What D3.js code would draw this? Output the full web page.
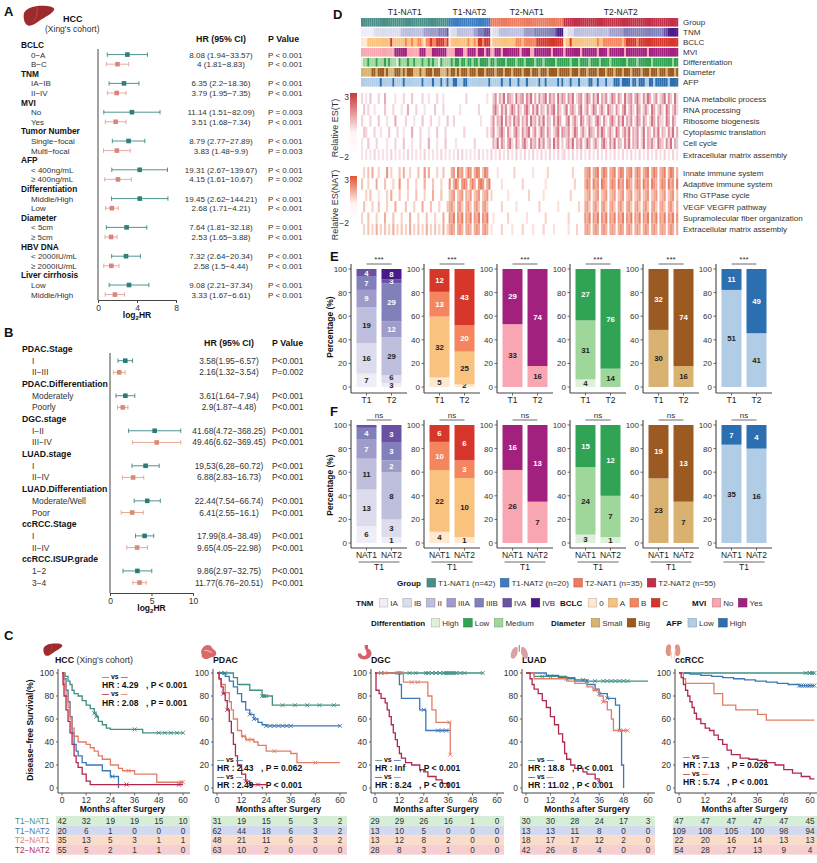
<!DOCTYPE html>
<html><head><meta charset="utf-8">
<script src="https://cdn.jsdelivr.net/npm/d3@7"></script>
<style>body{margin:0;background:#fff}svg{font-family:"Liberation Sans",Arial,Helvetica,sans-serif}</style>
</head><body><svg id="c" width="817" height="863"></svg>
<script>
// ===================== DATA =====================
// Panel A forest (HCC, Xing's cohort)
const forestAGroups = ["BCLC","TNM","MVI","Tumor Number","AFP","Differentiation","Diameter","HBV DNA","Liver cirrhosis"];
const forestALevels = [["0−A","B−C"],["IA−IB","II−IV"],["No","Yes"],["Single−focal","Multi−focal"],["< 400ng/mL","≥ 400ng/mL"],["Middle/High","Low"],["< 5cm","≥ 5cm"],["< 2000IU/mL","≥ 2000IU/mL"],["Low","Middle/High"]];
const forestAHR = [8.08,4,6.35,3.79,11.14,3.51,8.79,3.83,19.31,4.15,19.45,2.68,7.64,2.53,7.32,2.58,9.08,3.33];
const forestALo = [1.94,1.81,2.2,1.95,1.51,1.68,2.77,1.48,2.67,1.61,2.62,1.71,1.81,1.65,2.64,1.5,2.21,1.67];
const forestAHi = [33.57,8.83,18.36,7.35,82.09,7.34,27.89,9.9,139.67,10.67,144.21,4.21,32.18,3.88,20.34,4.44,37.34,6.61];
const forestAP = ["P < 0.001","P < 0.001","P < 0.001","P < 0.001","P = 0.003","P < 0.001","P < 0.001","P = 0.003","P < 0.001","P = 0.002","P < 0.001","P < 0.001","P = 0.001","P < 0.001","P < 0.001","P < 0.001","P < 0.001","P < 0.001"];
const forestATicks = [0,4,8];

// Panel B forest (pan-cancer)
const forestBGroups = ["PDAC.Stage","PDAC.Differentiation","DGC.stage","LUAD.stage","LUAD.Differentiation","ccRCC.Stage","ccRCC.ISUP.grade"];
const forestBLevels = [["I","II−III"],["Moderately","Poorly"],["I−II","III−IV"],["I","II−IV"],["Moderate/Well","Poor"],["I","II−IV"],["1−2","3−4"]];
const forestBHR = [3.58,2.16,3.61,2.9,41.68,49.46,19.53,6.88,22.44,6.41,17.99,9.65,9.86,11.77];
const forestBLo = [1.95,1.32,1.64,1.87,4.72,6.62,6.28,2.83,7.54,2.55,8.4,4.05,2.97,6.76];
const forestBHi = [6.57,3.54,7.94,4.48,368.25,369.45,60.72,16.73,66.74,16.1,38.49,22.98,32.75,20.51];
const forestBText = ["3.58(1.95−6.57)","2.16(1.32−3.54)","3.61(1.64−7.94)","2.9(1.87−4.48)","41.68(4.72−368.25)","49.46(6.62−369.45)","19,53(6,28−60.72)","6.88(2.83−16.73)","22.44(7.54−66.74)","6.41(2.55−16.1)","17.99(8.4−38.49)","9.65(4.05−22.98)","9.86(2.97−32.75)","11.77(6.76−20.51)"];
const forestBP = ["P<0.001","P=0.002","P<0.001","P<0.001","P<0.001","P<0.001","P<0.001","P<0.001","P<0.001","P<0.001","P<0.001","P<0.001","P<0.001","P<0.001"];
const forestBTicks = [0,5,10];

// Panel C Kaplan-Meier: [month, survival %] step points; censor times; numbers at risk
const groupNames = ["T1−NAT1","T1−NAT2","T2−NAT1","T2−NAT2"];
const kmMonths = [0,12,24,36,48,60];
const hccT1N1 = [[0,100],[1.5,97],[3,93],[4,90],[5,85],[6,82],[8,80],[10,76],[12,72],[14,69],[16,65],[17,62],[18,58],[20,55],[22,52],[24,51],[40,48],[60,48]];
const hccT1N2 = [[0,100],[1,95],[2,85],[3,75],[4,62],[5,48],[6,38],[7,32],[8,28],[10,22],[12,20],[19,20],[20,15],[24,10],[28,10],[28,0]];
const hccT2N1 = [[0,100],[1,90],[2,80],[3,70],[4,60],[5,52],[6,45],[8,40],[12,38],[14,35],[16,32],[18,28],[20,25],[24,20],[28,17],[30,15],[36,12],[46,12],[47,5],[60,5]];
const hccT2N2 = [[0,100],[0.5,90],[1,80],[2,68],[3,58],[4,48],[5,38],[6,28],[7,22],[8,18],[10,12],[12,6],[14,3],[60,3]];
const hccCens = [[16,17,36,48,51,54,57,60],[25],[33,59,60],[32,58]];
const hccRisk = [[42,32,19,19,15,10],[20,6,1,0,0,0],[35,13,5,3,1,1],[55,5,2,1,1,0]];

const pdacT1N1 = [[0,100],[8,96],[10,90],[16,85],[22,80],[27,72],[60,72]];
const pdacT1N2 = [[0,100],[4,97],[6,93],[8,88],[10,82],[12,75],[14,68],[16,64],[18,60],[20,57],[22,55],[24,54],[60,54]];
const pdacT2N1 = [[0,100],[1,95],[2,90],[4,83],[6,75],[7,68],[8,60],[10,50],[12,45],[14,42],[18,40],[20,37],[24,32],[36,30],[39,22],[60,22]];
const pdacT2N2 = [[0,100],[1,95],[2,88],[3,82],[4,76],[5,68],[6,58],[7,48],[8,38],[9,28],[10,20],[12,12],[14,6],[16,3],[24,3]];
const pdacCens = [[2,4,22,23,24,32,38,44,50,57],[16,18,24,26,28,30,32,34,36,60],[13,15,17,28,48],[3,5,14,16,20]];
const pdacRisk = [[31,19,15,5,3,2],[62,44,18,6,3,2],[48,21,11,6,3,2],[63,10,2,0,0,0]];

const dgcT1N1 = [[0,100],[53,100]];
const dgcT1N2 = [[0,100],[12,90],[13,78],[21,78],[22,68],[25,50],[37,50]];
const dgcT2N1 = [[0,100],[14,92],[24,92],[26,80],[28,68],[30,57],[37,57],[37,29]];
const dgcT2N2 = [[0,100],[0.5,85],[2,82],[3,78],[5,74],[6,68],[7,62],[8,55],[9,48],[10,42],[11,36],[12,30],[13,26],[15,22],[18,20],[22,16],[24,14],[26,10],[30,7],[33,4],[36,0]];
const dgcCens = [[3,11,12,13,17,20,25,26,28,30,32,34,35,36,37,38,39,40,42,44,53],[24,31,33,35],[5,18,21,36.5,37],[]];
const dgcRisk = [[29,29,26,16,1,0],[13,10,5,0,0,0],[13,12,8,2,0,0],[28,8,3,1,0,0]];

const luadT1N1 = [[0,100],[4,97],[20,95],[24,93],[60,93]];
const luadT1N2 = [[0,100],[10,98],[16,96],[24,94],[30,90],[34,86],[36,82],[40,78],[44,72],[46,50],[47,20],[48,0]];
const luadT2N1 = [[0,100],[4,95],[20,93],[24,91],[30,88],[33,85],[36,80],[38,75],[40,68],[42,60],[43,50],[50,50]];
const luadT2N2 = [[0,100],[2,95],[3,90],[4,86],[6,82],[8,76],[10,70],[12,62],[14,55],[16,47],[18,40],[19,30],[20,25],[22,20],[24,17],[28,14],[30,12],[34,8],[36,5]];
const luadCens = [[8,12,20,30,34,38,40,42,44,46,48,50],[28,36,40],[34,38,46,48,50],[36]];
const luadRisk = [[30,30,28,24,17,3],[13,13,11,8,0,0],[18,17,17,12,2,0],[42,26,8,4,0,0]];

const rccT1N1 = [[0,100],[62,100]];
const rccT1N2 = [[0,100],[5,99],[10,98],[15,97],[20,96],[25,95],[30,94],[35,93],[40,92],[45,91],[50,90],[55,89],[62,89]];
const rccT2N1 = [[0,100],[2,95],[3,91],[15,91],[16,82],[20,72],[26,68],[36,64],[40,59],[62,59]];
const rccT2N2 = [[0,100],[1,96],[2,90],[3,85],[4,80],[5,75],[6,70],[7,65],[8,60],[10,56],[12,52],[14,50],[16,46],[18,42],[20,38],[22,33],[24,29],[28,26],[32,25],[36,24],[40,22],[44,20],[48,16],[52,13],[56,10],[60,8],[62,8]];
const rccCens = [[58,60,61,62],[55,56,57,58,59,60,61,62],[],[]];
const rccRisk = [[47,47,47,47,47,45],[109,108,105,100,98,94],[22,20,16,14,13,13],[54,28,17,13,9,4]];

const kmHR = [["4.29","2.08"],["2.43","2.49"],["Inf","8.24"],["18.8","11.02"],["7.13","5.74"]];
const kmP = [["P < 0.001","P = 0.001"],["P = 0.062","P < 0.001"],["P < 0.001","P < 0.001"],["P < 0.001","P < 0.001"],["P = 0.026","P < 0.001"]];

// Panel D heatmap (152 samples)
const hmGroups = ["T1-NAT1","T1-NAT2","T2-NAT1","T2-NAT2"];
const hmGroupSizes = [42,20,35,55];
const hmTNM = ["000000"+"1111111111111"+"22222222222"+"3333333"+"4444"+"5",
  "0"+"111"+"22222222"+"33"+"444"+"555",
  "0"+"111"+"222222222222"+"33333"+"4444444444"+"5"+"666",
  "00"+"111"+"22222222222222222"+"3333333"+"4444444444444444444"+"55"+"66666"];
const hmBCLC = ["0001111111"+"1111311111"+"1211211221"+"0223223333"+"23",
  "0111111112"+"1121332333",
  "0111111111"+"1122212222"+"2233333333"+"33333",
  "0113111111"+"1111112112"+"2222222212"+"3333323333"+"3333333333"+"33333"];
const hmMVI = ["0000000000"+"0000001111"+"1100000011"+"1000111111"+"10",
  "0001111001"+"1110111011",
  "0011101111"+"1111011110"+"0111111110"+"11111",
  "0111111101"+"1111110111"+"1011111110"+"1111111111"+"0111111111"+"11111"];
const hmDiff = ["0221222122"+"2121222012"+"2212212221"+"2212122012"+"22",
  "2121121121"+"1211211112",
  "1121111211"+"1121112111"+"1211121111"+"12111",
  "1112111211"+"1121111211"+"1121111111"+"2111121111"+"1121111111"+"11211"];
const hmDiam = ["0000011011"+"1010001110"+"1011100010"+"0111011100"+"01",
  "0110101110"+"1110111011",
  "1101110111"+"0111101110"+"1110111011"+"11011",
  "1110111011"+"1011110111"+"0111011101"+"1101111011"+"1011101110"+"11101"];
const hmAFP = ["0000000001"+"0000010000"+"1000000001"+"0000100010"+"01",
  "0011000110"+"0000000001",
  "0000010001"+"0001000100"+"0001001000"+"00101",
  "0001000100"+"0011001000"+"1000111011"+"1101101110"+"0110111111"+"01111"];
const esTNames = ["DNA metabolic process","RNA processing","Ribosome biogenesis","Cytoplasmic translation","Cell cycle","Extracellular matrix assembly"];
const esT = [
 ["3020400030"+"0500002000"+"3000400003"+"0020003002"+"00","0000000030"+"0000000020","0460537065"+"4073560647"+"0506357064"+"50736","5064703560"+"4750637054"+"6037506407"+"3560574063"+"7504603570"+"64073"],
 ["0403002000"+"0400030002"+"0050003000"+"2000040003"+"00","0000020000"+"0000300000","0574063604"+"7506305740"+"6370540635"+"70640","4705630570"+"4603750463"+"0754063057"+"0463075046"+"3075046307"+"50463"],
 ["3000300040"+"0020005000"+"0300020004"+"0003000200"+"04","0030000000"+"0000020000","3605470635"+"0746053607"+"4506370540"+"63750","0570463075"+"0463057406"+"3057406370"+"5460375064"+"0375064307"+"50640"],
 ["0430003002"+"0004000300"+"2000500030"+"0020004000"+"30","0000000300"+"0000000030","4603574063"+"0574063570"+"4603750640"+"35706","5460375046"+"3075406375"+"0463075046"+"3705460370"+"5406370540"+"63705"],
 ["2004000300"+"0020003000"+"4000200030"+"0050002000"+"40","0002000000"+"0030000000","0537064057"+"3064057306"+"4507360450"+"73604","0463705460"+"3750463057"+"4063705406"+"3705460370"+"5463075406"+"37054"],
 ["2020203020"+"2020302020"+"2030202020"+"3020202030"+"20","2020303020"+"2020302020","3020302030"+"2030203020"+"3020302030"+"20302","3020302030"+"2030203020"+"3020302030"+"2030203020"+"3020302030"+"20302"]];
const esNATNames = ["Innate immune system","Adaptive immune system","Rho GTPase cycle","VEGF VEGFR pathway","Supramolecular fiber organization","Extracellular matrix assembly"];
const esNAT = [
 ["0304050030"+"0060300040"+"5003000400"+"6050003004"+"00","0560756047"+"6057604760","0002000000"+"0300000000"+"2000000300"+"00000","0000300000"+"5670567057"+"6056705760"+"5670576056"+"7057605670"+"57605"],
 ["4003000500"+"0400030060"+"0040003000"+"5000400030"+"00","6057506760"+"5750676057","0000020000"+"0000030000"+"0000002000"+"00000","0000030000"+"5760756076"+"5057607560"+"7650576075"+"6076505760"+"75607"],
 ["0030400020"+"0030500040"+"0030004000"+"3000500040"+"00","4560456054"+"6045604560","3000000020"+"0000000030"+"0000020000"+"00000","0003000000"+"4560456045"+"6045604560"+"4560456045"+"6045604560"+"45604"],
 ["0400030040"+"0030005000"+"0400030005"+"0004000300"+"04","5640564056"+"4056405640","0000030000"+"0020000000"+"0003000000"+"00200","0000000300"+"5640564056"+"4056405640"+"5640564056"+"4056405640"+"56405"],
 ["3004000300"+"0500040003"+"0005000300"+"0400030005"+"00","6570657065"+"7065706570","0200000030"+"0000000200"+"0000003000"+"00000","0030000000"+"6570657065"+"7065706570"+"6570657065"+"7065706570"+"65706"],
 ["0304030503"+"0403050304"+"0305030403"+"0503040305"+"03","5650565056"+"5056505650","2000030000"+"2000030000"+"2000030000"+"20000","0020003000"+"5650565056"+"5056505650"+"5650565056"+"5056505650"+"56505"]];

// Panels E/F stacked bars: counts, bottom -> top
const tnmLevels = ["IA","IB","II","IIIA","IIIB","IVA","IVB"];
const bclcLevels = ["0","A","B","C"];
const mviLevels = ["No","Yes"];
const diffStackLevels = ["High","Medium","Low"];
const diamLevels = ["Small","Big"];
const afpLevels = ["Low","High"];
const eTNM = [[7,16,19,9,7,4,0],[3,6,29,12,29,3,8]];
const fTNM = [[6,13,11,7,4,1,0],[1,3,8,2,3,3,0]];
const eBCLC = [[5,32,13,12],[2,25,20,43]];
const fBCLC = [[4,22,10,6],[1,10,3,6]];
const eMVI = [[33,29],[16,74]];
const fMVI = [[26,16],[7,13]];
const eDiff = [[4,31,27],[0,14,76]];
const fDiff = [[3,24,15],[1,7,12]];
const eDiam = [[30,32],[16,74]];
const fDiam = [[23,19],[7,13]];
const eAFP = [[51,11],[41,49]];
const fAFP = [[35,7],[16,4]];
const pctTicks = [0,20,40,60,80,100];

// ===================== STYLE =====================
const kmColors = ["#3f8f82","#3b78b5","#e27d66","#b1284c"];
const groupColors = ["#4a8f87","#3c7dc0","#ec7a5e","#c23048"];
const tnmColors = ["#efedf5","#dcdcec","#bebfdd","#9f9cc9","#8280bb","#6a51a3","#4a1a88"];
const bclcColors = ["#fee8cf","#f9c27f","#f4855e","#d7362a"];
const mviColors = ["#f8a6b2","#a3217e"];
const diffColors = {High:"#dff0da",Low:"#31a354",Medium:"#9fd69a"};
const diamColors = ["#d9b171","#9b5a22"];
const afpColors = ["#b0cde5","#2b6fb0"];

const svg = d3.select("#c");
svg.append("rect").attr("width",817).attr("height",863).attr("fill","#fff");

function T(sel,x,y,s,o={}){
  const t = sel.append("text").attr("x",x).attr("y",y).text(s)
    .attr("font-size",o.fs||8.5).attr("fill",o.fill||"#222");
  if(o.bold) t.attr("font-weight","bold");
  if(o.anchor) t.attr("text-anchor",o.anchor);
  if(o.rot!=null) t.attr("transform",`rotate(${o.rot},${x},${y})`);
  if(o.pre) t.style("white-space","pre");
  return t;
}
function L(sel,x1,y1,x2,y2,c,w){
  return sel.append("line").attr("x1",x1).attr("y1",y1).attr("x2",x2).attr("y2",y2).attr("stroke",c||"#333").attr("stroke-width",w||1);
}

// ===================== ICONS =====================
function icon(kind,x,y,s){
  const g = svg.append("g").attr("transform",`translate(${x},${y}) scale(${s})`);
  if(kind==="liver"){
    g.append("path").attr("d","M1,8 C4,2 14,0 24,1 C29,1.5 32,3 31,5 C29,9 22,12 16,16 C12,19 7,22 4,20 C1,18 0,12 1,8 Z").attr("fill","#9e2a2b");
    g.append("path").attr("d","M14,2 C15,8 13,13 10,17").attr("stroke","#c05050").attr("fill","none").attr("stroke-width",0.8);
  } else if(kind==="pancreas"){
    g.append("path").attr("d","M3,5 C6,0 12,0 14,4 C16,7 20,8 19,12 C18,16 13,15 10,17 C6,19 1,16 2,12 C1,10 1,7 3,5Z").attr("fill","#d9686b");
    g.append("path").attr("d","M5,8 C8,6 11,9 14,10").attr("stroke","#f2b0b0").attr("fill","none").attr("stroke-width",1.5);
  } else if(kind==="stomach"){
    g.append("path").attr("d","M9,0 L13,0 L13,4 C18,6 19,13 13,16 C7,19 0,15 1,10 L5,10 C5,13 10,14 11,11 C12,7 9,5 9,3Z").attr("fill","#d9606a");
  } else if(kind==="lungs"){
    g.append("path").attr("d","M9,3 L9,9 C8,14 4,17 2,16 C0,13 1,7 4,4 C6,2 8,2 9,3Z M13,3 L13,9 C14,14 18,17 20,16 C22,13 21,7 18,4 C16,2 14,2 13,3Z").attr("fill","#d9a0a6");
    L(g,11,0,11,8,"#c88a92",1.5);
  } else if(kind==="kidney"){
    g.append("path").attr("d","M3,2 C6,0 8,3 7,7 C6,10 8,12 6,15 C3,17 0,13 1,8 C1,5 2,3 3,2Z").attr("fill","#e39583");
    g.append("path").attr("d","M16,2 C13,0 11,3 12,7 C13,10 11,12 13,15 C16,17 19,13 18,8 C18,5 17,3 16,2Z").attr("fill","#e39583");
    L(g,7,9,8,18,"#e8b0a0",0.8); L(g,12,9,11,18,"#e8b0a0",0.8);
  }
}

// ===================== PANEL LABELS =====================
[["A",4,16],["B",4,337],["C",4,640],["D",333,19],["E",330,261],["F",330,416]].forEach(([s,x,y])=>T(svg,x,y,s,{bold:true,fs:13,fill:"#111"}));

// ===================== FORESTS =====================
function forest(cfg){
  const g = svg.append("g");
  const x = d3.scaleLinear().domain(cfg.domain).range(cfg.range);
  let row = 0;
  cfg.groups.forEach((grp,gi)=>{
    T(g,cfg.gx,cfg.y0+row*cfg.dy+3,grp,{bold:true,fs:cfg.fs+0.3,fill:"#111"});
    row++;
    cfg.levels[gi].forEach((lv,li)=>{
      const k = gi*2+li, yy = cfg.y0+row*cfg.dy;
      T(g,cfg.lx,yy+3,lv,{fs:cfg.fs,fill:"#333"});
      const lo = x(Math.log2(cfg.lo[k])), hi = x(Math.log2(cfg.hi[k])), pt = x(Math.log2(cfg.hr[k]));
      const wc = cfg.wcolors[li];
      L(g,lo,yy,hi,yy,wc,0.9);
      L(g,lo,yy-2.2,lo,yy+2.2,wc,0.9); L(g,hi,yy-2.2,hi,yy+2.2,wc,0.9);
      g.append("rect").attr("x",pt-2.3).attr("y",yy-2.3).attr("width",4.6).attr("height",4.6).attr("fill",cfg.colors[li]);
      T(g,cfg.hrx,yy+3,cfg.text[k],{fs:cfg.fs,anchor:"middle",fill:"#333"});
      T(g,cfg.px,yy+3,cfg.p[k],{fs:cfg.fs,fill:"#333"});
      row++;
    });
  });
  L(g,cfg.range[0],cfg.vTop,cfg.range[0],cfg.axisY,"#444",1);
  const ax = g.append("g").attr("transform",`translate(0,${cfg.axisY})`)
    .call(d3.axisBottom(x).tickValues(cfg.ticks).tickSize(3).tickSizeOuter(0));
  ax.select(".domain").attr("stroke","#444");
  ax.selectAll(".tick line").attr("stroke","#444");
  ax.selectAll("text").attr("font-size",8.5).attr("fill","#333").attr("font-family","Liberation Sans, Arial, sans-serif").attr("dy","0.6em");
  const lt = g.append("text").attr("x",(cfg.range[0]+cfg.range[1])/2).attr("y",cfg.axisY+18).attr("text-anchor","middle").attr("font-size",8.5).attr("font-weight","bold").attr("fill","#111");
  lt.append("tspan").text("log");
  lt.append("tspan").text("2").attr("font-size",6).attr("dy",1.5);
  lt.append("tspan").text("HR").attr("dy",-1.5);
  T(g,cfg.hrx,cfg.headY,"HR (95% CI)",{bold:true,fs:8.8,anchor:"middle",fill:"#111"});
  T(g,cfg.px,cfg.headY,"P Value",{bold:true,fs:8.8,fill:"#111"});
}

icon("liver",23,5,1);
T(svg,63,22,"HCC",{bold:true,fs:9,fill:"#111"});
T(svg,45,32,"(Xing's cohort)",{fs:8.5,fill:"#333"});

forest({groups:forestAGroups,levels:forestALevels,hr:forestAHR,lo:forestALo,hi:forestAHi,
  text:forestAHR.map((h,i)=>`${h} (${forestALo[i]}−${forestAHi[i]})`),p:forestAP,
  domain:[0,8],range:[98,176],ticks:forestATicks,y0:45,dy:9.6,fs:8,gx:21,lx:31,hrx:221,px:268,
  colors:["#2f7f7a","#d9857c"],wcolors:["#3c8883","#e2a39b"],vTop:49,axisY:300,headY:42});

forest({groups:forestBGroups,levels:forestBLevels,hr:forestBHR,lo:forestBLo,hi:forestBHi,
  text:forestBText,p:forestBP,
  domain:[0,10],range:[110,193],ticks:forestBTicks,y0:349,dy:11.68,fs:8.4,gx:22,lx:32,hrx:229,px:272,
  colors:["#2a7b78","#dd8a72"],wcolors:["#3c8883","#e4a08c"],vTop:353,axisY:593,headY:346});

// ===================== KM =====================
const kmCfg = [
 {title:"HCC",sub:" (Xing's cohort)",x0:62,x60:183,curves:[hccT1N1,hccT1N2,hccT2N1,hccT2N2],cens:hccCens,risk:hccRisk,icon:"liver",ix:43,iy:643,is:0.62,annX:102,annY:[679,688.3,696.4,705.6]},
 {title:"PDAC",sub:"",x0:217,x60:340,curves:[pdacT1N1,pdacT1N2,pdacT2N1,pdacT2N2],cens:pdacCens,risk:pdacRisk,icon:"pancreas",ix:200,iy:644,is:0.85,annX:217,annY:[761.5,770.8,778.9,788.1]},
 {title:"DGC",sub:"",x0:375,x60:497,curves:[dgcT1N1,dgcT1N2,dgcT2N1,dgcT2N2],cens:dgcCens,risk:dgcRisk,icon:"stomach",ix:357,iy:645,is:0.85,annX:375,annY:[761.5,770.8,778.9,788.1]},
 {title:"LUAD",sub:"",x0:526,x60:648,curves:[luadT1N1,luadT1N2,luadT2N1,luadT2N2],cens:luadCens,risk:luadRisk,icon:"lungs",ix:510,iy:645,is:0.85,annX:528,annY:[761.5,770.8,778.9,788.1]},
 {title:"ccRCC",sub:"",x0:679,x60:810,curves:[rccT1N1,rccT1N2,rccT2N1,rccT2N2],cens:rccCens,risk:rccRisk,icon:"kidney",ix:665,iy:643,is:0.85,annX:683,annY:[758.5,767.8,775.9,785.1]}
];
const riskBand = ["#d6eed6","#d3d9ef","#fadccb","#f5cfd1"];
function survAt(curve,t){let s=100;for(const [tt,ss] of curve){if(tt<=t)s=ss;}return s;}

kmCfg.forEach((c,ci)=>{
  const g = svg.append("g");
  const x = d3.scaleLinear().domain([0,60]).range([c.x0,c.x60]);
  const y = d3.scaleLinear().domain([0,100]).range([788,673]);
  icon(c.icon,c.ix,c.iy,c.is);
  const tt = g.append("text").attr("x",ci===0?55:c.x0-4).attr("y",663).attr("font-size",8.8).attr("fill","#111");
  tt.append("tspan").text(c.title).attr("font-weight","bold");
  if(c.sub) tt.append("tspan").text(c.sub).attr("fill","#333");
  L(g,c.x0-4,669,c.x0-4,793,"#444",1);
  L(g,c.x0-4,793,c.x60+7,793,"#444",1);
  [0,20,40,60,80,100].forEach(v=>{
    L(g,c.x0-6,y(v),c.x0-4,y(v),"#444",0.8);
    T(g,c.x0-8,y(v)+3,v,{fs:8.5,anchor:"end",fill:"#333"});
  });
  kmMonths.forEach(m=>{
    L(g,x(m),793,x(m),795.5,"#444",0.8);
    T(g,x(m),803,m,{fs:8.5,anchor:"middle",fill:"#333"});
  });
  T(g,(c.x0+c.x60)/2,812,"Months after Surgery",{bold:true,fs:8.5,anchor:"middle",fill:"#111"});
  const line = d3.line().x(d=>x(d[0])).y(d=>y(d[1])).curve(d3.curveStepAfter);
  c.curves.forEach((cv,k)=>{
    g.append("path").attr("d",line(cv)).attr("fill","none").attr("stroke",kmColors[k]).attr("stroke-width",1.3);
    c.cens[k].forEach(t=>{
      const px=x(t), py=y(survAt(cv,t));
      L(g,px-2,py-2,px+2,py+2,kmColors[k],0.9); L(g,px-2,py+2,px+2,py-2,kmColors[k],0.9);
    });
  });
  const pairs = [[0,1],[3,2]];
  pairs.forEach((pr,j)=>{
    const a = g.append("text").attr("x",c.annX).attr("y",c.annY[j*2]).attr("font-size",7).attr("font-weight","bold").style("white-space","pre");
    a.append("tspan").text("—").attr("fill",kmColors[pr[0]]);
    a.append("tspan").text(" vs ").attr("fill","#111");
    a.append("tspan").text("—").attr("fill",kmColors[pr[1]]);
    T(g,c.annX,c.annY[j*2+1],"HR : "+kmHR[ci][j],{bold:true,fs:8.5,fill:"#111"});
    T(g,c.annX+44,c.annY[j*2+1],", "+kmP[ci][j],{bold:true,fs:8.5,fill:"#111",pre:true});
  });
  const rowY = [821,830.7,840.3,850];
  c.risk.forEach((r,k)=>{
    g.append("rect").attr("x",c.x0-6).attr("y",rowY[k]-5).attr("width",c.x60-c.x0+13).attr("height",9.7).attr("fill",riskBand[k]);
    r.forEach((v,m)=>T(g,x(kmMonths[m]),rowY[k]+3,v,{fs:8.2,anchor:"middle",fill:"#333"}));
  });
});
T(svg,33,730,"Disease−free Survival(%)",{bold:true,fs:8.5,anchor:"middle",rot:-90,fill:"#111"});
[821,830.7,840.3,850].forEach((yy,k)=>T(svg,15,yy+3,groupNames[k],{fs:8.2,fill:kmColors[k]}));

// ===================== HEATMAP D =====================
(function(){
  const g = svg.append("g");
  const nCol = d3.sum(hmGroupSizes);
  const hx = d3.scaleBand().domain(d3.range(nCol)).range([361,678]).paddingInner(0.1);
  const seq = segs=>{let out=[];segs.forEach((s,i)=>{const n=hmGroupSizes[i];let a=s.split("").map(Number);while(a.length<n)a.push(a[a.length-1]);out=out.concat(a.slice(0,n));});return out;};
  const groupIdx = []; hmGroupSizes.forEach((n,i)=>{for(let j=0;j<n;j++)groupIdx.push(i);});
  const annos = [
    ["Group",groupIdx,groupColors],
    ["TNM",seq(hmTNM),tnmColors],
    ["BCLC",seq(hmBCLC),bclcColors],
    ["MVI",seq(hmMVI),mviColors],
    ["Differentiation",seq(hmDiff),[diffColors.High,diffColors.Low,diffColors.Medium]],
    ["Diameter",seq(hmDiam),diamColors],
    ["AFP",seq(hmAFP),afpColors]];
  annos.forEach(([name,vals,cols],r)=>{
    const yy = 18+r*10;
    vals.forEach((v,i)=>g.append("rect").attr("x",hx(i)).attr("y",yy).attr("width",hx.bandwidth()+0.25).attr("height",8.6).attr("fill",cols[v]));
    T(g,683,yy+7,name,{fs:8,fill:"#333"});
  });
  let cum=0;
  hmGroups.forEach((n,i)=>{
    const a=hx(cum), b=hx(cum+hmGroupSizes[i]-1)+hx.bandwidth();
    T(g,(a+b)/2,15,n,{fs:8.5,anchor:"middle",fill:"#222"});
    cum+=hmGroupSizes[i];
  });
  const cT = d3.scaleLinear().domain([-2,0.3,3]).range(["#ffffff","#efc4cd","#c0384a"]);
  const cN = d3.scaleLinear().domain([-2,0.3,3]).range(["#ffffff","#f6c2b2","#e24f2e"]);
  const val = d=> -2 + d*5/9;
  function block(rows,names,top,h,cs){
    rows.forEach((segs,r)=>{
      const vals = seq(segs), yy = top + r*h;
      vals.forEach((d,i)=>{ if(d>0) g.append("rect").attr("x",hx(i)).attr("y",yy).attr("width",hx.bandwidth()+0.25).attr("height",h).attr("fill",cs(val(d))); });
      T(g,683,yy+h/2+3,names[r],{fs:8,fill:"#333"});
    });
  }
  block(esT,esTNames,93,11.2,cT);
  block(esNAT,esNATNames,167,11.35,cN);
  const defs = svg.append("defs");
  [["gT","#c8373a",93,159],["gN","#e2522f",176,222]].forEach(([id,col,y1,y2])=>{
    const lg = defs.append("linearGradient").attr("id",id).attr("x1",0).attr("y1",1).attr("x2",0).attr("y2",0);
    lg.append("stop").attr("offset","0%").attr("stop-color","#ffffff");
    lg.append("stop").attr("offset","40%").attr("stop-color","#fff4f4");
    lg.append("stop").attr("offset","100%").attr("stop-color",col);
    g.append("rect").attr("x",350).attr("y",y1).attr("width",7).attr("height",y2-y1).attr("fill",`url(#${id})`);
  });
  T(g,349,100,"3",{fs:8.5,anchor:"end",fill:"#333"});
  T(g,349,160,"−2",{fs:8.5,anchor:"end",fill:"#333"});
  T(g,349,183,"3",{fs:8.5,anchor:"end",fill:"#333"});
  T(g,349,226,"−2",{fs:8.5,anchor:"end",fill:"#333"});
  T(g,338,128,"Relative ES(T)",{fs:9,anchor:"middle",rot:-90,fill:"#333"});
  T(g,338,205,"Relative ES(NAT)",{fs:9,anchor:"middle",rot:-90,fill:"#333"});
})();

// ===================== STACKED BARS E / F =====================
const barPanels = [
  {e:eTNM,f:fTNM,cols:tnmColors},
  {e:eBCLC,f:fBCLC,cols:bclcColors},
  {e:eMVI,f:fMVI,cols:mviColors},
  {e:eDiff,f:fDiff,cols:diffStackLevels.map(l=>diffColors[l])},
  {e:eDiam,f:fDiam,cols:diamColors},
  {e:eAFP,f:fAFP,cols:afpColors}];
function stack(p,data,cols,cfg){
  const g = svg.append("g");
  const ax = 351 + p*73;
  const y = d3.scaleLinear().domain([0,100]).range([cfg.y0,cfg.y100]);
  const xb = d3.scaleBand().domain(cfg.cats).range([ax+3,ax+53]).paddingInner(0.2).paddingOuter(0.1);
  L(g,ax,cfg.y100-5,ax,cfg.axisY,"#444",1.1);
  L(g,ax,cfg.axisY,ax+56,cfg.axisY,"#444",1.1);
  pctTicks.forEach(v=>{
    L(g,ax-2.5,y(v),ax,y(v),"#444",0.8);
    T(g,ax-4,y(v)+3,v,{fs:8,anchor:"end",fill:"#333"});
  });
  cfg.cats.forEach((cat,bi)=>{
    const counts = data[bi], tot = d3.sum(counts);
    const bx = xb(cat), bw = xb.bandwidth();
    let cum = 0, prevLabY = 1e9;
    counts.forEach((n,k)=>{
      if(n===0) return;
      const pct = n/tot*100;
      g.append("rect").attr("x",bx).attr("y",y(cum+pct)).attr("width",bw).attr("height",y(cum)-y(cum+pct)).attr("fill",cols[k]);
      const isTop = (cum+pct)>99.9;
      if(!(isTop && pct<3)){
        let ly = y(cum+pct/2)+2.8;
        if(prevLabY - ly < 7.5) ly = prevLabY - 7.5;
        const lab = d3.lab(cols[k]).l<70 ? "#ffffff" : "#222";
        T(g,bx+bw/2,ly,n,{fs:7.8,bold:true,anchor:"middle",fill:lab});
        prevLabY = ly;
      }
      cum += pct;
    });
    L(g,bx+bw/2,cfg.axisY,bx+bw/2,cfg.axisY+2.5,"#444",0.8);
    T(g,bx+bw/2,cfg.axisY+10,cat,{fs:8.5,anchor:"middle",fill:"#222"});
  });
  const c1 = xb(cfg.cats[0])+xb.bandwidth()/2, c2 = xb(cfg.cats[1])+xb.bandwidth()/2;
  L(g,c1,cfg.sigY,c2,cfg.sigY,"#444",0.8);
  T(g,(c1+c2)/2,cfg.sigY-2,cfg.sig,{fs:8,anchor:"middle",fill:"#333"});
  if(cfg.under){
    L(g,c1-8,cfg.axisY+14,c2+8,cfg.axisY+14,"#444",0.8);
    T(g,(c1+c2)/2,cfg.axisY+22,cfg.under,{fs:8.5,anchor:"middle",fill:"#222"});
  }
}
barPanels.forEach((bp,p)=>{
  stack(p,bp.e,bp.cols,{y0:387,y100:269,axisY:393,cats:["T1","T2"],sigY:264,sig:"***"});
  stack(p,bp.f,bp.cols,{y0:543,y100:425,axisY:548,cats:["NAT1","NAT2"],sigY:420,sig:"ns",under:"T1"});
});
T(svg,333,327,"Percentage (%)",{bold:true,fs:8.5,anchor:"middle",rot:-90,fill:"#111"});
T(svg,333,485,"Percentage (%)",{bold:true,fs:8.5,anchor:"middle",rot:-90,fill:"#111"});

// ===================== LEGEND =====================
(function(){
  const g = svg.append("g");
  function row(x,y,title,items){
    const t = T(g,x,y,title,{bold:true,fs:8,fill:"#111"});
    let cx = x + t.node().getComputedTextLength() + 6;
    items.forEach(([lab,col])=>{
      g.append("rect").attr("x",cx).attr("y",y-7.5).attr("width",8.5).attr("height",8.5).attr("fill",col).attr("stroke",d3.color(col).darker(0.7)).attr("stroke-width",0.6);
      const tl = T(g,cx+11,y,lab,{fs:8,fill:"#333"});
      cx += 11 + tl.node().getComputedTextLength() + 5;
    });
  }
  row(397,586,"Group",[["T1-NAT1 (n=42)",groupColors[0]],["T1-NAT2 (n=20)",groupColors[1]],["T2-NAT1 (n=35)",groupColors[2]],["T2-NAT2 (n=55)",groupColors[3]]]);
  row(356,606,"TNM",tnmLevels.map((l,i)=>[l,tnmColors[i]]));
  row(560,606,"BCLC",bclcLevels.map((l,i)=>[l,bclcColors[i]]));
  row(692,606,"MVI",mviLevels.map((l,i)=>[l,mviColors[i]]));
  row(371,626,"Differentiation",["High","Low","Medium"].map(l=>[l,diffColors[l]]));
  row(551,626,"Diameter",diamLevels.map((l,i)=>[l,diamColors[i]]));
  row(666,626,"AFP",afpLevels.map((l,i)=>[l,afpColors[i]]));
})();
</script></body></html>
